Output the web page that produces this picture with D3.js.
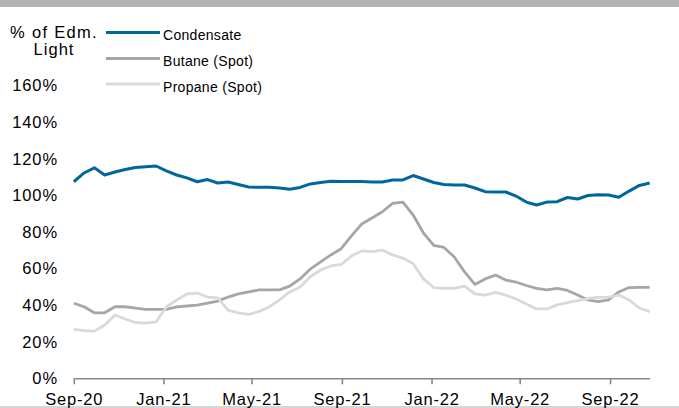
<!DOCTYPE html>
<html>
<head>
<meta charset="utf-8">
<script src="https://cdn.jsdelivr.net/npm/d3@7"></script>
<style>
  html, body { margin: 0; padding: 0; background: #fff; }
  svg { display: block; }
  text { font-family: "Liberation Sans", Arial, sans-serif; fill: #000; }
</style>
</head>
<body>
<svg id="chart" width="679" height="408"></svg>
<script>
// ---- data (roughly every two weeks) ----
const dates = [
  "2020-09-01","2020-09-15","2020-09-29","2020-10-13","2020-10-27","2020-11-10","2020-11-24",
  "2020-12-08","2020-12-22","2021-01-05","2021-01-19","2021-02-02","2021-02-16","2021-03-02",
  "2021-03-16","2021-03-30","2021-04-13","2021-04-27","2021-05-11","2021-05-25","2021-06-08",
  "2021-06-22","2021-07-06","2021-07-20","2021-08-03","2021-08-17","2021-08-31","2021-09-14",
  "2021-09-28","2021-10-12","2021-10-26","2021-11-09","2021-11-23","2021-12-07","2021-12-21",
  "2022-01-04","2022-01-18","2022-02-01","2022-02-15","2022-03-01","2022-03-15","2022-03-29",
  "2022-04-12","2022-04-26","2022-05-10","2022-05-24","2022-06-07","2022-06-21","2022-07-05",
  "2022-07-19","2022-08-02","2022-08-16","2022-08-30","2022-09-13","2022-09-27","2022-10-11",
  "2022-10-25"
];
const condensate = [
  107.4,112.2,115.0,111.1,112.7,114.1,115.2,115.6,116.0,113.3,111.1,109.5,107.4,108.6,
  106.7,107.3,105.9,104.5,104.4,104.4,104.0,103.3,104.3,106.2,107.0,107.7,107.5,107.5,
  107.5,107.3,107.3,108.4,108.4,110.8,108.9,107.0,105.9,105.6,105.6,104.0,102.0,101.8,
  101.8,99.6,96.3,94.7,96.3,96.5,98.8,98.0,99.9,100.3,100.2,98.9,102.3,105.4,106.7
];
const butane = [
  41.0,39.1,35.8,35.8,39.1,39.1,38.4,37.7,37.7,37.7,39.0,39.5,40.0,41.1,
  42.2,44.4,46.1,47.2,48.3,48.3,48.3,50.4,54.3,59.7,63.6,67.4,70.8,77.8,
  84.3,87.6,91.0,95.6,96.3,89.2,79.4,72.6,71.5,66.3,58.1,51.3,54.3,56.4,
  53.7,52.6,50.7,49.1,48.3,49.2,48.0,45.5,42.8,41.9,42.8,47.2,49.6,49.7,49.7
];
const propane = [
  26.7,26.1,25.8,29.1,34.6,32.4,30.5,30.2,30.8,39.0,42.8,46.1,46.6,44.4,
  43.9,37.3,35.8,34.9,36.5,39.0,42.8,47.2,49.9,55.5,59.2,61.4,62.2,66.8,
  69.6,69.2,70.1,67.4,65.7,62.7,54.3,49.6,49.2,49.2,50.4,46.1,45.5,47.0,
  45.5,43.3,40.6,37.9,37.9,40.1,41.4,42.5,43.6,44.2,44.4,45.5,42.8,38.4,36.4
];
const seriesNames = ["Condensate", "Butane (Spot)", "Propane (Spot)"];
const seriesColors = ["#00679c", "#a6a6a6", "#d9d9d9"];
const yTicks = [0, 20, 40, 60, 80, 100, 120, 140, 160];
const axisTitle = ["% of Edm.", "Light"];
const xStart = "2020-09-01", xEnd = "2022-10-25";

// ---- drawing ----
const svg = d3.select("#chart");
const parse = d3.timeParse("%Y-%m-%d");
const W = 679, H = 408;

// top band and bottom rule
svg.append("rect").attr("x", 0).attr("y", 0).attr("width", W).attr("height", 7).attr("fill", "#b3b3b3");
svg.append("rect").attr("x", 0).attr("y", 406).attr("width", W).attr("height", 2).attr("fill", "#d6d6d6");

const x = d3.scaleTime().domain([parse(xStart), parse(xEnd)]).range([73.8, 649.7]);
const y = d3.scaleLinear().domain([0, 160]).range([378.3, 85.5]);

// y tick labels (no axis line)
svg.append("g").selectAll("text").data(yTicks).join("text")
  .attr("x", 58).attr("y", d => y(d)).attr("dy", "0.36em")
  .attr("text-anchor", "end").style("font-size", "16.5px")
  .style("letter-spacing", "0.9px")
  .text(d => d + "%");

// axis title
svg.append("text").attr("x", 54).attr("y", 38).attr("text-anchor", "middle")
  .style("font-size", "16.5px").style("letter-spacing", "1.3px").text(axisTitle[0]);
svg.append("text").attr("x", 54).attr("y", 55).attr("text-anchor", "middle")
  .style("font-size", "16.5px").style("letter-spacing", "1px").text(axisTitle[1]);

// x axis
const xAxis = d3.axisBottom(x)
  .ticks(d3.timeMonth.every(4))
  .tickFormat(d3.timeFormat("%b-%y"))
  .tickSizeInner(6).tickSizeOuter(0);
const gx = svg.append("g").attr("transform", `translate(0,${y(0)})`).call(xAxis);
gx.select(".domain").attr("stroke", "#888").attr("stroke-width", 1.6);
gx.selectAll(".tick line").attr("stroke", "#888").attr("stroke-width", 1.6);
gx.selectAll(".tick text").attr("y", 27).attr("dy", 0)
  .style("font-size", "16.5px").style("letter-spacing", "0.8px")
  .style("font-family", "'Liberation Sans', Arial, sans-serif").attr("fill", "#000");

// lines
const values = [condensate, butane, propane];
const line = d3.line().x(d => x(d.date)).y(d => y(d.v));
values.forEach((vals, i) => {
  const pts = dates.map((d, j) => ({ date: parse(d), v: vals[j] }));
  svg.append("path").datum(pts)
    .attr("fill", "none").attr("stroke", seriesColors[i])
    .attr("stroke-width", i === 0 ? 3 : 2.8)
    .attr("stroke-linejoin", "round")
    .attr("d", line);
});

// legend
const legY = [32.5, 58.5, 84];
seriesNames.forEach((name, i) => {
  svg.append("line").attr("x1", 106).attr("x2", 160).attr("y1", legY[i]).attr("y2", legY[i])
    .attr("stroke", seriesColors[i]).attr("stroke-width", 3);
  svg.append("text").attr("x", 163).attr("y", legY[i] + 2.5).attr("dy", "0.36em")
    .style("font-size", "14px").style("letter-spacing", "0.3px").text(name);
});
</script>
</body>
</html>
